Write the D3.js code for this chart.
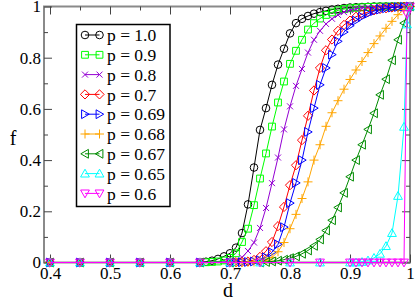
<!DOCTYPE html>
<html><head><meta charset="utf-8">
<script src="https://cdn.jsdelivr.net/npm/d3@7"></script>
<style>html,body{margin:0;padding:0;background:#fff;}svg{display:block;}
svg text{font-family:"Liberation Serif","Times New Roman","DejaVu Serif",serif !important;}
</style>
</head><body>
<svg id="c" width="415" height="298"></svg>
<script>
// ---------- data ----------
const dA = [0.4,0.45,0.5,0.55,0.6,0.65,0.66,0.67,0.68,0.69,0.70,0.71,0.72,0.73,0.74,0.75,0.76,0.77,0.78,0.79,0.80,0.81,0.82,0.83,0.84,0.85,0.86,0.87,0.88,0.89,0.90,0.91,0.92,0.93,0.94,0.95,0.96,0.97,0.98,0.99,1.0];
const dB = [0.4,0.45,0.5,0.55,0.6,0.65,0.70,0.71,0.72,0.73,0.74,0.75,0.76,0.77,0.78,0.79,0.80,0.81,0.82,0.83,0.84,0.85,0.86,0.87,0.88,0.89,0.90,0.91,0.92,0.93,0.94,0.95,0.96,0.97,0.98,0.99,1.0];
const dC = [0.4,0.45,0.5,0.55,0.6,0.65,0.70,0.75,0.76,0.77,0.78,0.79,0.80,0.81,0.82,0.83,0.84,0.85,0.86,0.87,0.88,0.89,0.90,0.91,0.92,0.93,0.94,0.95,0.96,0.97,0.98,0.99,1.0];
const dD = [0.4,0.45,0.5,0.55,0.6,0.65,0.70,0.75,0.80,0.85,0.90,0.91,0.92,0.93,0.94,0.95,0.96,0.97,0.98,0.99,0.995,1.0];

const f_p100 = [0,0,0,0,0,0,0.003,0.007,0.014,0.024,0.036,0.058,0.115,0.227,0.371,0.518,0.603,0.694,0.773,0.835,0.895,0.935,0.952,0.963,0.972,0.978,0.983,0.988,0.991,0.994,0.996,0.997,0.998,0.999,1,1,1,1,1,1,1];
const f_p090 = [0,0,0,0,0,0,0.001,0.002,0.004,0.008,0.018,0.036,0.08,0.132,0.224,0.328,0.426,0.531,0.625,0.707,0.776,0.827,0.87,0.91,0.935,0.953,0.967,0.977,0.985,0.99,0.993,0.995,0.997,0.998,0.999,1,1,1,1,1,1];
const f_p080 = [0,0,0,0,0,0,0.003,0.008,0.02,0.045,0.078,0.135,0.213,0.31,0.41,0.52,0.61,0.69,0.756,0.82,0.87,0.905,0.932,0.952,0.967,0.978,0.986,0.991,0.995,0.997,0.998,0.999,1,1,1,1,1];
const f_p070 = [0,0,0,0,0,0,0,0.001,0.002,0.004,0.01,0.022,0.044,0.08,0.142,0.217,0.302,0.38,0.478,0.573,0.672,0.76,0.829,0.871,0.905,0.928,0.945,0.96,0.97,0.978,0.985,0.99,0.993,0.996,0.998,0.999,1];
const f_p069 = [0,0,0,0,0,0,0,0.001,0.001,0.002,0.004,0.009,0.02,0.04,0.071,0.138,0.232,0.311,0.40,0.51,0.603,0.694,0.76,0.812,0.864,0.90,0.925,0.945,0.96,0.972,0.982,0.988,0.993,0.996,0.998,0.999,1];
const f_p068 = [0,0,0,0,0,0,0,0,0,0.001,0.002,0.004,0.009,0.02,0.042,0.078,0.132,0.188,0.25,0.315,0.40,0.46,0.532,0.585,0.632,0.677,0.715,0.752,0.785,0.82,0.855,0.885,0.915,0.942,0.968,0.988,1];
const f_p067 = [0,0,0,0,0,0,0,0,0.002,0.004,0.007,0.011,0.017,0.024,0.034,0.047,0.065,0.09,0.125,0.165,0.215,0.272,0.335,0.40,0.46,0.52,0.583,0.655,0.716,0.79,0.87,0.935,1];
const f_p065 = [0,0,0,0,0,0,0,0,0,0,0,0,0.002,0.008,0.018,0.034,0.064,0.115,0.26,0.53,0.93,1];
const f_p060 = [0,0,0,0,0,0,0,0,0,0,0,0,0,0,0,0,0,0,0,0,0.97,1];

const seriesLabels = ["p = 1.0","p = 0.9","p = 0.8","p = 0.7","p = 0.69","p = 0.68","p = 0.67","p = 0.65","p = 0.6"];
const xTickValues = [0.4,0.5,0.6,0.7,0.8,0.9,1.0];
const xTickLabels = ["0.4","0.5","0.6","0.7","0.8","0.9","1"];
const xMinorValues = [0.45,0.55,0.65,0.75,0.85,0.95];
const yTickValues = [0,0.2,0.4,0.6,0.8,1.0];
const yTickLabels = ["0","0.2","0.4","0.6","0.8","1"];
const yMinorValues = [0.1,0.3,0.5,0.7,0.9];

// ---------- styling ----------
const colors = ["#000000","#00ff00","#9400d3","#ff0000","#0000ff","#ffa500","#008b00","#00ffff","#ff00ff"];
const shapes = ["circle","square","cross","diamond","triR","plus","triL","triU","triD"];
const symbolPath = {
  circle: "M3.8,0A3.8,3.8 0 1 1 -3.8,0A3.8,3.8 0 1 1 3.8,0Z",
  square: "M-3.4,-3.4H3.4V3.4H-3.4Z",
  cross:  "M-3,-3L3,3M-3,3L3,-3",
  diamond:"M0,-4.6L4.6,0L0,4.6L-4.6,0Z",
  triR:   "M4.2,0L-3.4,-4.4L-3.4,4.4Z",
  plus:   "M-4.5,0H4.5M0,-4.5V4.5",
  triL:   "M-4.2,0L3.4,-4.4L3.4,4.4Z",
  triU:   "M0,-4.4L4.4,3.4L-4.4,3.4Z",
  triD:   "M0,4.4L4.4,-3.4L-4.4,-3.4Z"
};

const dSets = [dA,dA,dB,dB,dB,dB,dC,dD,dD];
const fSets = [f_p100,f_p090,f_p080,f_p070,f_p069,f_p068,f_p067,f_p065,f_p060];

const svg = d3.select("#c");
const x = d3.scaleLinear().domain([0.39,1.0]).range([44,410]);
const y = d3.scaleLinear().domain([0,1]).range([262.5,6.5]);
const FONT = "Liberation Serif";

// frame
svg.append("rect").attr("x",44).attr("y",6.5).attr("width",366).attr("height",256)
  .attr("fill","none").attr("stroke","#8a8a8a").attr("stroke-width",2);

function styleAxis(g){
  g.attr("font-family",null).attr("font-size",null);
  g.select(".domain").remove();
  g.selectAll(".tick line").attr("stroke","#444").attr("stroke-width",1);
  g.selectAll(".tick text").attr("font-family",FONT).attr("font-size",17).attr("fill","#000");
}
const fmtX = d => xTickLabels[xTickValues.findIndex(v=>Math.abs(v-d)<1e-9)];
const fmtY = d => yTickLabels[yTickValues.findIndex(v=>Math.abs(v-d)<1e-9)];

// bottom
svg.append("g").attr("transform","translate(0,262.5)")
  .call(d3.axisBottom(x).tickValues(xTickValues).tickSize(-8).tickPadding(4.5).tickFormat(fmtX)).call(styleAxis);
svg.append("g").attr("transform","translate(0,262.5)")
  .call(d3.axisBottom(x).tickValues(xMinorValues).tickSize(-4).tickFormat("")).call(styleAxis);
// top
svg.append("g").attr("transform","translate(0,6.5)")
  .call(d3.axisTop(x).tickValues(xTickValues).tickSize(-8).tickFormat("")).call(styleAxis);
svg.append("g").attr("transform","translate(0,6.5)")
  .call(d3.axisTop(x).tickValues(xMinorValues).tickSize(-4).tickFormat("")).call(styleAxis);
// left
svg.append("g").attr("transform","translate(44,0)")
  .call(d3.axisLeft(y).tickValues(yTickValues).tickSize(-8).tickPadding(3).tickFormat(fmtY)).call(styleAxis);
svg.append("g").attr("transform","translate(44,0)")
  .call(d3.axisLeft(y).tickValues(yMinorValues).tickSize(-4).tickFormat("")).call(styleAxis);
// right
svg.append("g").attr("transform","translate(410,0)")
  .call(d3.axisRight(y).tickValues(yTickValues).tickSize(-8).tickFormat("")).call(styleAxis);
svg.append("g").attr("transform","translate(410,0)")
  .call(d3.axisRight(y).tickValues(yMinorValues).tickSize(-4).tickFormat("")).call(styleAxis);

// axis titles
svg.append("text").attr("x",228).attr("y",297).attr("text-anchor","middle")
  .attr("font-family",FONT).attr("font-size",20).text("d");
svg.append("text").attr("x",13).attr("y",145).attr("text-anchor","middle")
  .attr("font-family",FONT).attr("font-size",20).text("f");

// series
const line = d3.line().x(p=>x(p[0])).y(p=>y(p[1]));
seriesLabels.forEach((lab,i)=>{
  const pts = dSets[i].map((d,k)=>[d,fSets[i][k]]);
  const g = svg.append("g");
  g.append("path").attr("d",line(pts)).attr("fill","none").attr("stroke",colors[i]).attr("stroke-width",1);
  g.selectAll("path.m").data(pts).enter().append("path").attr("class","m")
    .attr("transform",p=>`translate(${x(p[0])},${y(p[1])})`)
    .attr("d",symbolPath[shapes[i]]).attr("fill","none").attr("stroke",colors[i]).attr("stroke-width",1);
});

// legend
const lg = svg.append("g");
lg.append("rect").attr("x",76.5).attr("y",24.5).attr("width",93.5).attr("height",182)
  .attr("fill","#fff").attr("stroke","#000").attr("stroke-width",1.5);
seriesLabels.forEach((lab,i)=>{
  const cy = 35 + i*19.8;
  lg.append("line").attr("x1",85).attr("x2",99.5).attr("y1",cy).attr("y2",cy)
    .attr("stroke",colors[i]).attr("stroke-width",1);
  [85,99.5].forEach(cx=>lg.append("path").attr("transform",`translate(${cx},${cy})`)
    .attr("d",symbolPath[shapes[i]]).attr("fill","none").attr("stroke",colors[i]).attr("stroke-width",1));
  lg.append("text").attr("x",107).attr("y",cy).attr("dy","0.35em")
    .attr("font-family",FONT).attr("font-size",17.5).text(lab);
});
</script>
</body></html>
